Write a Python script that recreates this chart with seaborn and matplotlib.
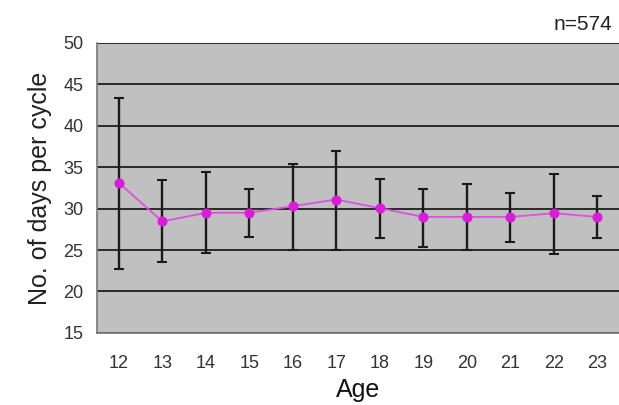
import numpy as np
import pandas as pd
import matplotlib.pyplot as plt
import seaborn as sns

# Data
ages = [12, 13, 14, 15, 16, 17, 18, 19, 20, 21, 22, 23]
mean_days = [33.1, 28.45, 29.5, 29.5, 30.3, 31.1, 30.05, 29.0, 29.0, 29.0, 29.45, 29.0]
upper = [43.4, 33.5, 34.4, 32.4, 35.4, 37.0, 33.55, 32.4, 33.0, 31.9, 34.15, 31.55]
lower = [22.7, 23.55, 24.6, 26.6, 25.0, 25.0, 26.4, 25.4, 24.95, 26.0, 24.5, 26.4]
y_ticks = [15, 20, 25, 30, 35, 40, 45, 50]

df = pd.DataFrame({"age": ages, "days": mean_days, "hi": upper, "lo": lower})
df["pos"] = np.arange(len(df))

sns.set_style("white")
plt.rcParams["font.family"] = ["Liberation Sans", "DejaVu Sans"]

fig = plt.figure(figsize=(6.19, 4.05), dpi=100)
ax = fig.add_axes([0.157, 0.178, 0.843, 0.716])
ax.set_facecolor("#c0c0c0")

# error bars
ax.errorbar(df["pos"], df["days"],
            yerr=[df["days"] - df["lo"], df["hi"] - df["days"]],
            fmt="none", ecolor="#1a1a1a", elinewidth=1.7, capsize=3.5, capthick=1.5, zorder=3)

sns.lineplot(data=df, x="pos", y="days", ax=ax, color="#e050e0", linewidth=1.3,
             marker="o", markersize=6.5, markerfacecolor="#d81cd8", markeredgecolor="#d81cd8",
             zorder=4)

ax.set_ylim(15, 50)
ax.set_xlim(-0.5, len(ages) - 0.5)
ax.set_yticks(y_ticks)
ax.yaxis.grid(True, color="#1e1e1e", linewidth=1.3)
ax.set_axisbelow(True)

ax.set_xticks(df["pos"])
ax.set_xticklabels([str(a) for a in ages])
ax.set_xticks(np.arange(-0.5, len(ages)), minor=True)
ax.tick_params(axis="x", which="major", length=0, pad=16, labelsize=13, colors="#333333")
ax.tick_params(axis="x", which="minor", length=4, color="#555555", direction="out")
ax.tick_params(axis="y", length=5, color="#555555", labelsize=13, labelcolor="#333333",
               direction="out", pad=5)

for side in ["top", "right"]:
    ax.spines[side].set_visible(False)
for side in ["left", "bottom"]:
    ax.spines[side].set_color("#777777")
    ax.spines[side].set_linewidth(1.2)

ax.set_xlabel("Age", fontsize=18, color="#111111", labelpad=4)
ax.set_ylabel("No. of days per cycle", fontsize=18, color="#222222", labelpad=8)
fig.text(0.99, 0.915, "n=574", ha="right", va="bottom", fontsize=15, color="#222222")

plt.savefig("out.png", dpi=100)
plt.close()
